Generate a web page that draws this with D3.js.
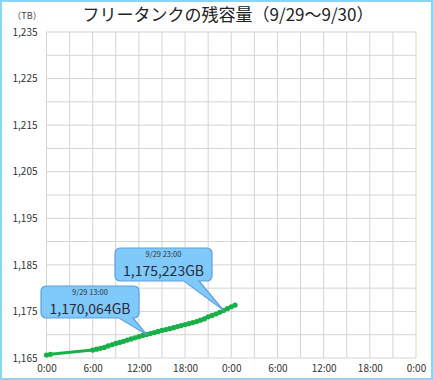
<!DOCTYPE html>
<html>
<head>
<meta charset="utf-8">
<script src="https://d3js.org/d3.v7.min.js"></script>
<style>
  body { margin: 0; background: #fff; }
  svg text { font-family: "Noto Sans CJK JP", "Noto Sans", sans-serif; }
  .grid line { stroke: #d4d4d4; stroke-width: 1; }
  .axis text { fill: #333; font-size: 10px; }
  .axis path, .axis line { display: none; }
</style>
</head>
<body>
<script>
// data: 9/29 readings of the free tank (TB)
var times = ["9/29 00:00", "9/29 00:30", "9/29 06:00", "9/29 06:30", "9/29 07:00", "9/29 07:30",
  "9/29 08:00", "9/29 08:30", "9/29 09:00", "9/29 09:30", "9/29 10:00", "9/29 10:30",
  "9/29 11:00", "9/29 11:30", "9/29 12:00", "9/29 12:30", "9/29 13:00", "9/29 13:30",
  "9/29 14:00", "9/29 14:30", "9/29 15:00", "9/29 15:30", "9/29 16:00", "9/29 16:30",
  "9/29 17:00", "9/29 17:30", "9/29 18:00", "9/29 18:30", "9/29 19:00", "9/29 19:30",
  "9/29 20:00", "9/29 20:30", "9/29 21:00", "9/29 21:30", "9/29 22:00", "9/29 22:30",
  "9/29 23:00", "9/29 23:30", "9/30 00:00", "9/30 00:30"];
var values = [1.16564, 1.16578, 1.16670, 1.16690, 1.16708, 1.16728,
  1.16760, 1.16785, 1.16812, 1.16835, 1.16858, 1.16885,
  1.16910, 1.16935, 1.16958, 1.16985, 1.170064, 1.17025,
  1.17048, 1.17070, 1.17092, 1.17112, 1.17130, 1.17152,
  1.17174, 1.17196, 1.17218, 1.17238, 1.17260, 1.17283,
  1.17312, 1.17340, 1.17385, 1.17415, 1.17445, 1.17482,
  1.175223, 1.17560, 1.17600, 1.17637];

var yTicks = [1.165, 1.175, 1.185, 1.195, 1.205, 1.215, 1.225, 1.235];
var yLabels = ["1,165", "1,175", "1,185", "1,195", "1,205", "1,215", "1,225", "1,235"];
var xLabels = ["0:00", "6:00", "12:00", "18:00", "0:00", "6:00", "12:00", "18:00", "0:00"];

// callouts: index into the series + text
var callouts = [
  {idx: 16, date: "9/29 13:00", text: "1,170,064GB"},
  {idx: 36, date: "9/29 23:00", text: "1,175,223GB"}
];

var W = 433, H = 380;
var parseTime = d3.timeParse("%m/%d %H:%M");
var data = times.map(function (t, i) {
  return {date: parseTime(t), v: values[i]};
});
var start = parseTime("9/29 00:00"),
    end = parseTime("10/01 00:00");

var svg = d3.select("body").append("svg")
  .attr("width", W).attr("height", H);

svg.append("rect")
  .attr("x", 1).attr("y", 1).attr("width", W - 2).attr("height", H - 2)
  .attr("fill", "#fff").attr("stroke", "#8ad6f2").attr("stroke-width", 2);

var x = d3.scaleTime().domain([start, end]).range([46.5, 416]);
var y = d3.scaleLinear().domain([1.165, 1.235]).range([358, 32]);

// grid
var vTicks = d3.timeHour.every(3).range(start, d3.timeHour.offset(end, 1));
var hTicks = d3.range(0, 15).map(function (i) { return 1.165 + i * 0.005; });

var grid = svg.append("g").attr("class", "grid");
grid.selectAll(".v").data(vTicks).enter().append("line")
  .attr("x1", function (d) { return x(d); }).attr("x2", function (d) { return x(d); })
  .attr("y1", y(1.235)).attr("y2", y(1.165));
grid.selectAll(".h").data(hTicks).enter().append("line")
  .attr("x1", x(start)).attr("x2", x(end))
  .attr("y1", function (d) { return y(d); }).attr("y2", function (d) { return y(d); });

// axes
var xTickVals = d3.timeHour.every(6).range(start, d3.timeHour.offset(end, 1));
svg.append("g").attr("class", "axis")
  .attr("transform", "translate(0," + y(1.165) + ")")
  .call(d3.axisBottom(x).tickValues(xTickVals).tickSize(0).tickPadding(7)
    .tickFormat(function (d, i) { return xLabels[i]; }));

svg.append("g").attr("class", "axis")
  .attr("transform", "translate(" + x(start) + ",0)")
  .call(d3.axisLeft(y).tickValues(yTicks).tickSize(0).tickPadding(9)
    .tickFormat(function (d, i) { return yLabels[i]; }));

// title
svg.append("text")
  .attr("x", 228).attr("y", 21)
  .attr("text-anchor", "middle")
  .attr("font-size", 17).attr("fill", "#222")
  .text("フリータンクの残容量（9/29～9/30）");
svg.append("text")
  .attr("x", 27).attr("y", 19)
  .attr("text-anchor", "middle")
  .attr("font-size", 9).attr("fill", "#444")
  .text("（TB）");

// series
var line = d3.line()
  .x(function (d) { return x(d.date); })
  .y(function (d) { return y(d.v); });

svg.append("path").datum(data)
  .attr("d", line)
  .attr("fill", "none")
  .attr("stroke", "#19b04a")
  .attr("stroke-width", 3)
  .attr("stroke-linejoin", "round");

svg.selectAll(".pt").data(data).enter().append("circle")
  .attr("cx", function (d) { return x(d.date); })
  .attr("cy", function (d) { return y(d.v); })
  .attr("r", 2.6)
  .attr("fill", "#19b04a");

// callout boxes
var boxes = [
  {x: 41, y: 286, w: 98, h: 32, tail: [119, 133]},
  {x: 115, y: 248, w: 97, h: 33, tail: [184, 199]}
];

callouts.forEach(function (c, i) {
  var d = data[c.idx], b = boxes[i];
  var tx = x(d.date), ty = y(d.v);
  var r = 5;
  var p = d3.path();
  p.moveTo(b.x + r, b.y);
  p.lineTo(b.x + b.w - r, b.y);
  p.arcTo(b.x + b.w, b.y, b.x + b.w, b.y + r, r);
  p.lineTo(b.x + b.w, b.y + b.h - r);
  p.arcTo(b.x + b.w, b.y + b.h, b.x + b.w - r, b.y + b.h, r);
  p.lineTo(b.tail[1], b.y + b.h);
  p.lineTo(tx, ty);
  p.lineTo(b.tail[0], b.y + b.h);
  p.lineTo(b.x + r, b.y + b.h);
  p.arcTo(b.x, b.y + b.h, b.x, b.y + b.h - r, r);
  p.lineTo(b.x, b.y + r);
  p.arcTo(b.x, b.y, b.x + r, b.y, r);
  p.closePath();

  var g = svg.append("g");
  g.append("path").attr("d", p.toString())
    .attr("fill", "#80c9fb").attr("stroke", "#5b9fe6").attr("stroke-width", 1.2);
  g.append("text")
    .attr("x", b.x + b.w / 2).attr("y", b.y + 9)
    .attr("text-anchor", "middle").attr("font-size", 7.5).attr("fill", "#333")
    .text(c.date);
  g.append("text")
    .attr("x", b.x + b.w / 2).attr("y", b.y + 27.5)
    .attr("text-anchor", "middle").attr("font-size", 14).attr("fill", "#2a2a3a")
    .text(c.text);
});
</script>
</body>
</html>
